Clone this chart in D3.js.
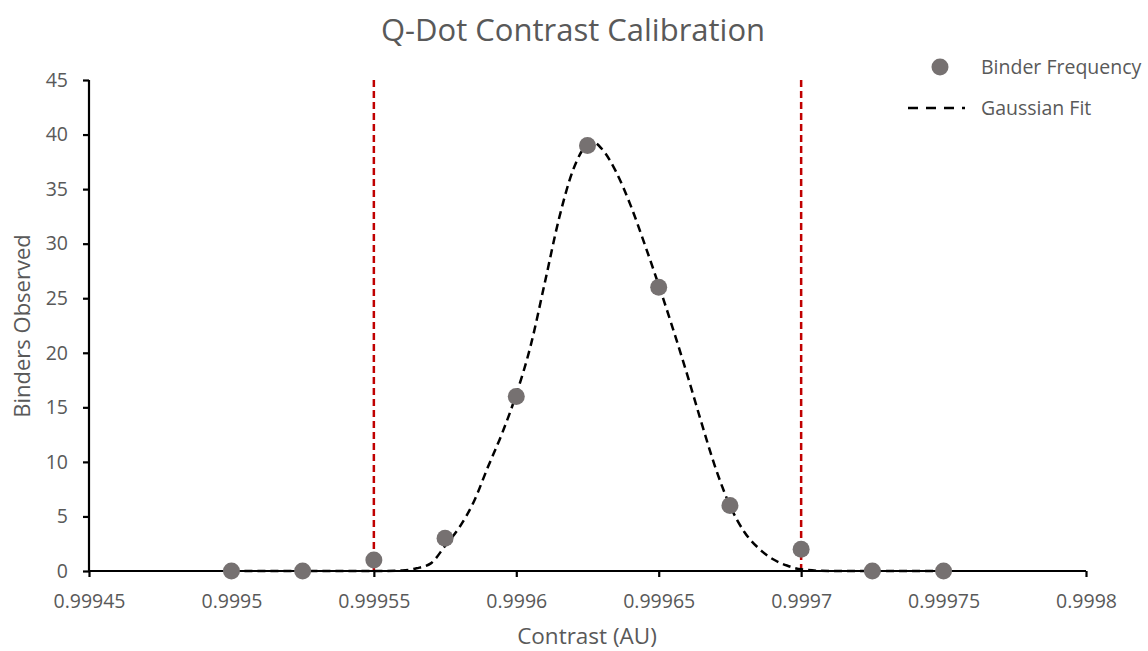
<!DOCTYPE html>
<html><head><meta charset="utf-8">
<script src="https://cdn.jsdelivr.net/npm/d3@7"></script>
<style>body{margin:0;background:#fff}svg{display:block}text{font-family:"Open Sans",Lato,sans-serif;fill:#595959}</style>
</head><body><svg id="c" width="1148" height="651"></svg>
<script>
const contrast = [0.9995,0.999525,0.99955,0.999575,0.9996,0.999625,0.99965,0.999675,0.9997,0.999725,0.99975];
const binders = [0,0,1,3,16,39,26,6,2,0,0];
const fitX = [0.9995,0.99953,0.99955,0.99956,0.999565,0.99957,0.999575,0.99958,0.999585,0.99959,0.999595,0.9996,0.999605,0.99961,0.999615,0.99962,0.999625,0.999627,0.99963,0.999635,0.99964,0.999645,0.99965,0.999655,0.99966,0.999665,0.99967,0.999675,0.99968,0.999685,0.99969,0.999695,0.9997,0.99971,0.99975];
const fitY = [0,0,0,0.05,0.25,0.7,2.3,4.0,6.3,9.5,12.6,16.2,20.6,26.4,32.3,36.8,39.1,39.3,38.7,36.6,33.6,30.0,26.2,22.2,18.0,13.6,9.4,6.0,3.6,2.1,1.1,0.5,0.15,0,0];
const limits = [0.99955,0.9997];
const xTicks = [0.99945,0.9995,0.99955,0.9996,0.99965,0.9997,0.99975,0.9998];
const xTickLabels = ["0.99945","0.9995","0.99955","0.9996","0.99965","0.9997","0.99975","0.9998"];
const yTicks = [0,5,10,15,20,25,30,35,40,45];
const title = "Q-Dot Contrast Calibration";
const xTitle = "Contrast (AU)";
const yTitle = "Binders Observed";
const seriesNames = ["Binder Frequency","Gaussian Fit"];

const svg = d3.select("#c");
const x = d3.scaleLinear().domain([0.99945,0.9998]).range([89,1086]);
const y = d3.scaleLinear().domain([0,45]).range([571,80]);

svg.append("text").attr("x",573).attr("y",41).attr("text-anchor","middle").style("font-size","31px").text(title);

// limit lines
svg.selectAll(".lim").data(limits).enter().append("line")
  .attr("x1",d=>x(d)).attr("x2",d=>x(d)).attr("y1",y(0)).attr("y2",y(45))
  .attr("stroke","#c00000").attr("stroke-width",2.5).attr("stroke-dasharray","7,4");

// axes
const xAxis = d3.axisBottom(x).tickValues(xTicks).tickFormat((d,i)=>xTickLabels[i]).tickSize(6).tickPadding(17);
const gx = svg.append("g").attr("transform",`translate(0,${y(0)})`).call(xAxis);
const yAxis = d3.axisLeft(y).tickValues(yTicks).tickSize(6).tickPadding(15);
const gy = svg.append("g").attr("transform",`translate(${x(0.99945)},0)`).call(yAxis);
[gx,gy].forEach(g=>{
  g.select(".domain").attr("stroke","#000").attr("stroke-width",2.2);
  g.selectAll(".tick line").attr("stroke","#000").attr("stroke-width",2.2);
  g.selectAll(".tick text").style("font-size","19.5px").style("font-family","'Open Sans',Lato,sans-serif").attr("fill","#595959");
});
gy.select(".domain").attr("d","M0,571V80");
gx.select(".domain").attr("d","M89,0H1086");

// fit curve
const pts = fitX.map((v,i)=>[v,fitY[i]]);
svg.append("path").datum(pts)
  .attr("d",d3.line().x(d=>x(d[0])).y(d=>y(d[1])).curve(d3.curveMonotoneX))
  .attr("fill","none").attr("stroke","#000").attr("stroke-width",2.5).attr("stroke-dasharray","8,5");

// points
svg.selectAll(".pt").data(contrast).enter().append("circle")
  .attr("cx",d=>x(d)).attr("cy",(d,i)=>y(binders[i])).attr("r",8.5).attr("fill","#767171");

// axis titles
svg.append("text").attr("x",587).attr("y",644).attr("text-anchor","middle").style("font-size","22.5px").text(xTitle);
svg.append("text").attr("transform","translate(30,326) rotate(-90)").attr("text-anchor","middle").style("font-size","22px").text(yTitle);

// legend
svg.append("circle").attr("cx",940).attr("cy",67).attr("r",8.5).attr("fill","#767171");
svg.append("text").attr("x",981).attr("y",74).style("font-size","19.5px").text(seriesNames[0]);
svg.append("line").attr("x1",908).attr("x2",965).attr("y1",108).attr("y2",108).attr("stroke","#000").attr("stroke-width",2.5).attr("stroke-dasharray","10,8");
svg.append("text").attr("x",981).attr("y",115).style("font-size","19.5px").text(seriesNames[1]);
</script></body></html>
